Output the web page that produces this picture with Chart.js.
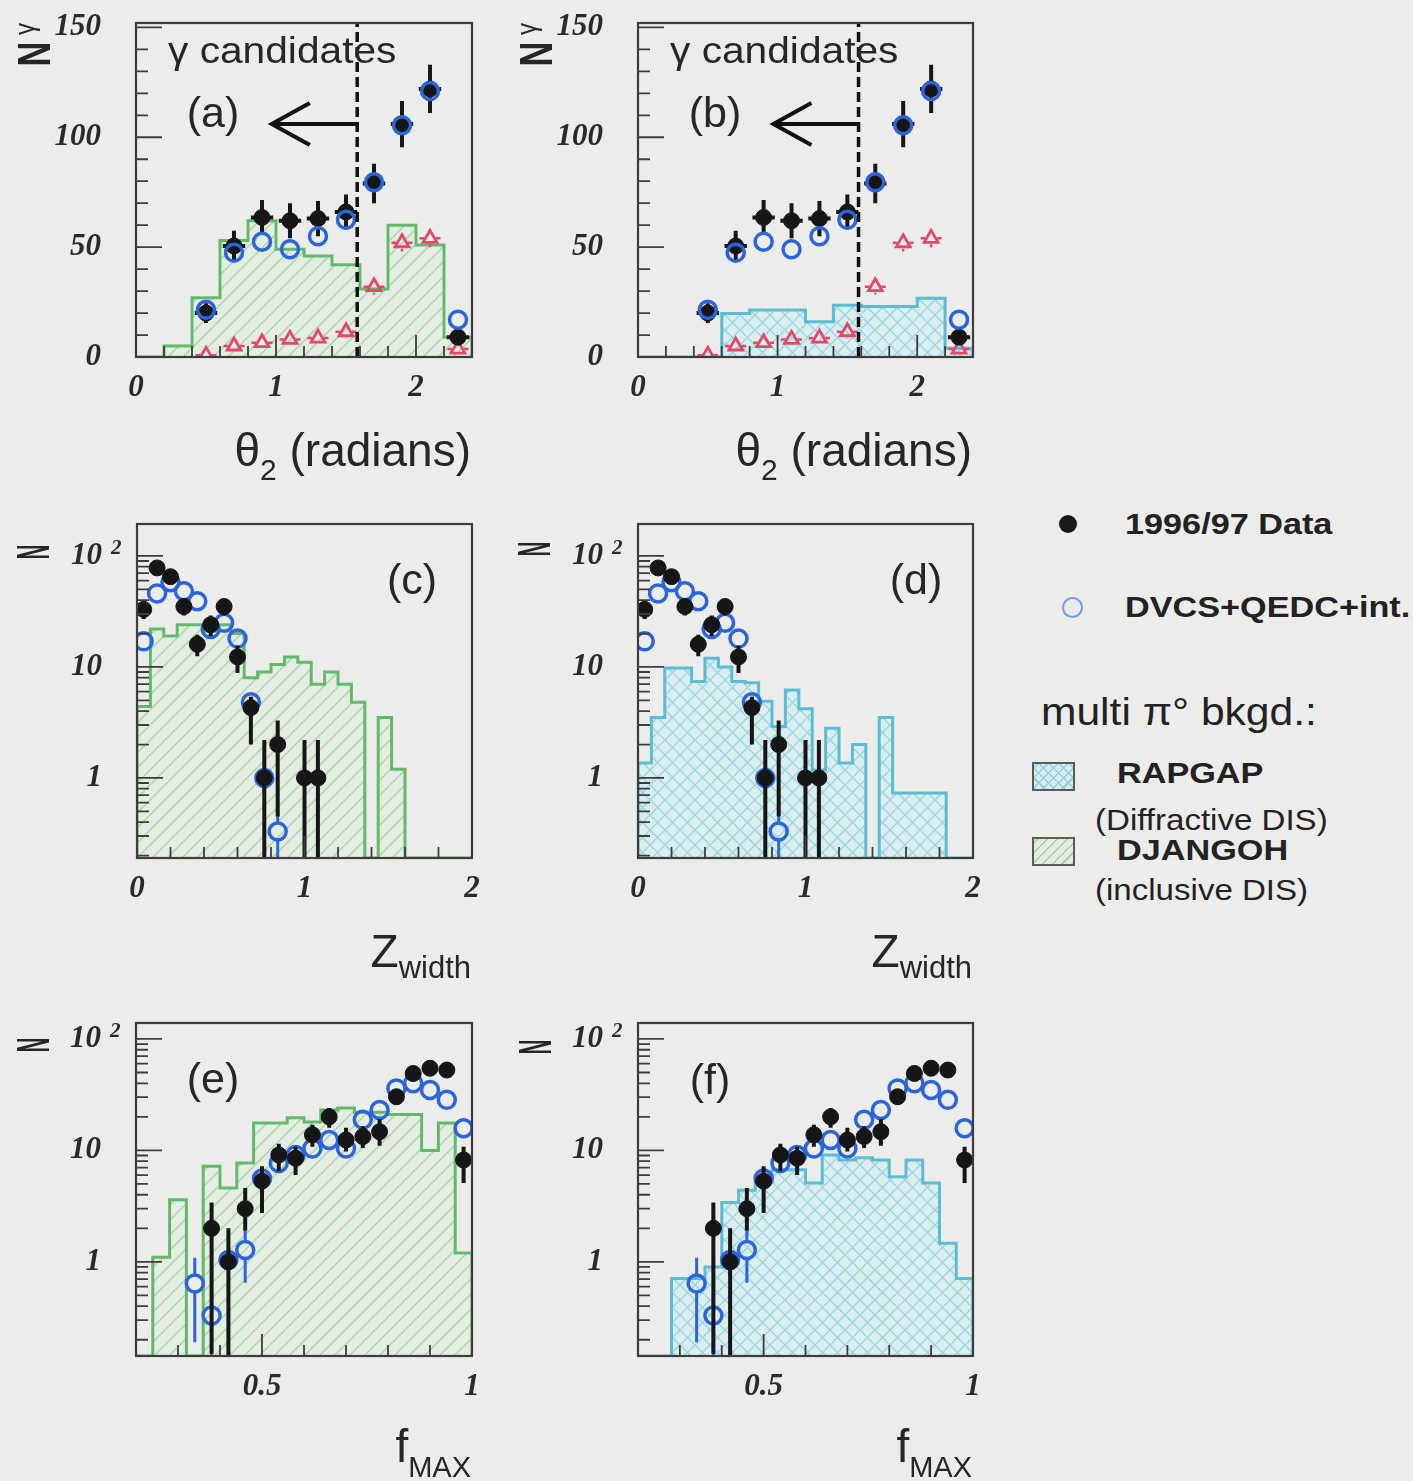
<!DOCTYPE html>
<html>
<head>
<meta charset="utf-8">
<title>Photon candidate distributions</title>
<script src="https://cdn.jsdelivr.net/npm/chart.js@4.4.1/dist/chart.umd.min.js"></script>
<style>
  html, body { margin: 0; padding: 0; background: #ececea; }
  body { position: relative; width: 1413px; height: 1481px; overflow: hidden;
         font-family: "Liberation Sans", Arial, sans-serif; color: #222; }
  canvas { position: absolute; }
  .txt { position: absolute; white-space: nowrap; line-height: 1; transform-origin: 0 50%; }
  .bold { font-weight: bold; font-size: 29px; transform: translateY(-50%) scaleX(1.18); }
  .note { font-size: 29px; transform: translateY(-50%) scaleX(1.14); }
  .head { font-size: 38px; transform: translateY(-50%) scaleX(1.12); }
  .mark { position: absolute; box-sizing: border-box; border-radius: 50%; }
  .swatch { position: absolute; box-sizing: border-box; width: 43px; height: 29px; border: 2px solid #5a5a5a; }
</style>
</head>
<body>
<canvas id="pa" width="500" height="500" style="left:0;top:0"></canvas>
<canvas id="pb" width="500" height="500" style="left:500px;top:0"></canvas>
<canvas id="pc" width="500" height="500" style="left:0;top:500px"></canvas>
<canvas id="pd" width="500" height="500" style="left:500px;top:500px"></canvas>
<canvas id="pe" width="500" height="481" style="left:0;top:1000px"></canvas>
<canvas id="pf" width="500" height="481" style="left:500px;top:1000px"></canvas>

<!-- legend -->
<div class="mark" style="left:1059px;top:515px;width:18px;height:18px;background:#1a1a1a"></div>
<div class="txt bold" style="left:1125px;top:524px">1996/97 Data</div>
<div class="mark" style="left:1062px;top:597px;width:21px;height:21px;border:2.5px solid #6c9de6"></div>
<div class="txt bold" style="left:1125px;top:607px">DVCS+QEDC+int.</div>
<div class="txt head" style="left:1041px;top:712px">multi &pi;&deg; bkgd.:</div>
<div class="swatch" style="left:1032px;top:762px;background:
  repeating-linear-gradient(45deg, #95d2df 0 1.5px, transparent 1.5px 7px),
  repeating-linear-gradient(-45deg, #95d2df 0 1.5px, transparent 1.5px 7px), #d8ebee"></div>
<div class="txt bold" style="left:1117px;top:773px">RAPGAP</div>
<div class="txt note" style="left:1095px;top:820px">(Diffractive DIS)</div>
<div class="swatch" style="left:1032px;top:837px;background:
  repeating-linear-gradient(-45deg, #a3d3a6 0 1.5px, #e3ece1 1.5px 7px)"></div>
<div class="txt bold" style="left:1117px;top:850px">DJANGOH</div>
<div class="txt note" style="left:1095px;top:890px">(inclusive DIS)</div>

<script>
// ---- theta_2 of the second cluster, panels (a) and (b); 0.2 rad bins ----
const thetaEdges = [0, 0.2, 0.4, 0.6, 0.8, 1.0, 1.2, 1.4, 1.6, 1.8, 2.0, 2.2, 2.4];
const thetaDjangoh = [0, 5, 27, 53, 62, 49, 46, 42, 31, 60, 51, 9];
const thetaRapgap = [0, 0, 0, 19.8, 21.4, 21.4, 16, 23.6, 23, 23, 26.7, 4];
const thetaX = [0.5, 0.7, 0.9, 1.1, 1.3, 1.5, 1.7, 1.9, 2.1, 2.3];
const thetaData = [20, 50.5, 63.5, 62, 63, 66, 79, 106, 122, 9];
const thetaDataErr = [4.5, 7, 8, 8, 8, 8, 9, 10.5, 11, 3];
const thetaDvcs = [21.5, 47.5, 52.5, 49, 55, 62.5, 79.5, 105.5, 121, 17];
const thetaTri = [0.8, 5, 6.5, 8, 8.6, 11.5, 32, 52, 54, 3.6];
const thetaTriErr = [0.8, 2, 2.2, 2.5, 2.6, 3, 3.5, 4, 4, 1.5];
const thetaYTicks = [0, 50, 100, 150];
const thetaXTicks = [0, 1, 2];
const thetaCut = 1.58;
const arrowTip = 0.97;
const arrowLevel = 106;

// ---- Z_width, panels (c) and (d); 0.08 bins ----
const zwEdges = [0, 0.08, 0.16, 0.24, 0.32, 0.40, 0.48, 0.56, 0.64, 0.72, 0.80, 0.88, 0.96,
                 1.04, 1.12, 1.20, 1.28, 1.36, 1.44, 1.52, 1.60, 1.68, 1.76, 1.84, 1.92, 2.00];
const zwDjangoh = [4.4, 22, 19, 24, 24, 21, 24, 20, 8, 9, 10.5, 12.3, 11, 7, 9, 7, 4.8, 0, 3.5, 1.2, 0, 0, 0, 0, 0];
const zwRapgap = [1.36, 3.5, 9.8, 9.8, 7.4, 12, 10, 7.4, 7.2, 4.9, 2.9, 6.2, 4.2, 1.18, 2.8, 1.36, 2.0, 0, 3.5, 0.73, 0.73, 0.73, 0.73, 0, 0];
const zwDataX = [0.04, 0.12, 0.20, 0.28, 0.36, 0.44, 0.52, 0.60, 0.68, 0.76, 0.84, 1.00, 1.08];
const zwData = [33, 78, 65, 35, 16, 24, 35, 12.3, 4.3, 1, 2, 1, 1];
const zwDataLo = [27, 69, 57, 29, 12.5, 19, 29, 8.8, 2.0, 0, 0.45, 0, 0];
const zwDataHi = [39, 87, 73, 41, 19.5, 29, 41, 15.5, 5.4, 2.2, 3.3, 2.2, 2.2];
const zwDvcsX = [0.04, 0.12, 0.20, 0.28, 0.36, 0.44, 0.52, 0.60, 0.68, 0.76, 0.84];
const zwDvcs = [17, 46, 58, 48, 39, 22, 25, 18, 4.8, 1, 0.33];
const zwDvcsLo = [15.5, 43, 55, 45, 36.5, 20.5, 23.5, 16.5, 4.2, 0.75, 0.19];
const zwDvcsHi = [18.5, 49, 61, 51, 41.5, 23.5, 26.5, 19.5, 5.4, 1.25, 0.5];
const zwXTicks = [0, 1, 2];

// ---- f_MAX, panels (e) and (f); 0.04 bins ----
const fmEdges = [0.20, 0.24, 0.28, 0.32, 0.36, 0.40, 0.44, 0.48, 0.52, 0.56, 0.60,
                 0.64, 0.68, 0.72, 0.76, 0.80, 0.84, 0.88, 0.92, 0.96, 1.00];
const fmDjangoh = [0, 1.1, 3.6, 0, 7.2, 4.6, 7.7, 17.6, 17.6, 19.6, 18, 23, 24, 22, 22, 21, 21, 10, 17.6, 1.2];
const fmRapgap = [0, 0, 0.71, 0.71, 0.9, 3.4, 4.4, 5.2, 6.7, 6.7, 5.1, 9.1, 8.2, 8.6, 8.2, 5.8, 8.2, 5.1, 1.47, 0.71];
const fmDataX = [0.38, 0.42, 0.46, 0.50, 0.54, 0.58, 0.62, 0.66, 0.70, 0.74, 0.78, 0.82, 0.86, 0.90, 0.94, 0.98];
const fmData = [2.0, 1.0, 3.0, 5.3, 9.1, 8.5, 13.8, 20, 12.4, 13.3, 14.7, 30.3, 49, 54.6, 52.6, 8.2];
const fmDataLo = [0.15, 0, 1.9, 2.75, 6.5, 6.0, 10.8, 16, 9.8, 10.5, 11, 26, 43, 48, 46, 5.1];
const fmDataHi = [3.4, 2.0, 4.6, 7.2, 11.5, 10.8, 17, 24, 16, 16.5, 19, 35, 56, 62, 60, 10.8];
const fmDvcsX = [0.34, 0.38, 0.42, 0.46, 0.50, 0.54, 0.58, 0.62, 0.66, 0.70, 0.74, 0.78, 0.82, 0.86, 0.90, 0.94, 0.98];
const fmDvcs = [0.64, 0.33, 1.04, 1.28, 5.6, 7.7, 9.1, 10.4, 12.4, 10.4, 18.8, 23, 36, 40, 34.8, 28.4, 15.8];
const fmDvcsLo = [0.19, 0, 0.75, 0.65, 5.0, 7.0, 8.4, 9.6, 11.5, 9.6, 17.6, 21.7, 34.5, 38.4, 33.4, 27, 14.8];
const fmDvcsHi = [1.09, 0.53, 1.35, 1.9, 6.2, 8.4, 9.8, 11.2, 13.3, 11.2, 20, 24.3, 37.5, 41.6, 36.2, 29.8, 16.8];
const fmXTicks = [0.5, 1];

const logYTicks = [1, 10, 100];

const INK = '#262626';
const DATA_COL = '#161616';
const DVCS_COL = '#2c64dc';
const TRI_COL = '#e4476c';
const GREEN = { line: '#62b96c', hatch: '#a9d6ab', bg: '#e5ede3' };
const CYAN = { line: '#5bbdd3', hatch: '#9dd5e1', bg: '#dcedf0' };

function hatchPattern(c, cross) {
  const n = 15;
  const cv = document.createElement('canvas');
  cv.width = cv.height = n;
  const g = cv.getContext('2d');
  g.fillStyle = c.bg;
  g.fillRect(0, 0, n, n);
  g.strokeStyle = c.hatch;
  g.lineWidth = 1.5;
  g.beginPath();
  for (let k = -1; k <= 1; k++) {
    g.moveTo(k * n - 2, n + 2); g.lineTo(k * n + n + 2, -2);
    if (cross) { g.moveTo(k * n - 2, -2); g.lineTo(k * n + n + 2, n + 2); }
  }
  g.stroke();
  return g.createPattern(cv, 'repeat');
}

// step outline of a histogram, closed down to the axis floor at both ends
function histPoints(edges, vals, floor) {
  const pts = [{ x: edges[0], y: floor }];
  vals.forEach((v, i) => pts.push({ x: edges[i], y: Math.max(v, floor) }));
  const last = edges[edges.length - 1];
  pts.push({ x: last, y: Math.max(vals[vals.length - 1], floor) });
  pts.push({ x: last, y: floor });
  return pts;
}

const xy = (xs, ys) => xs.map((x, i) => ({ x, y: ys[i] }));

// error bars, left open inside the marker
const errorBars = {
  id: 'errorBars',
  beforeDatasetDraw(chart, args) {
    const ds = chart.data.datasets[args.index];
    if (!ds.errLo && !ds.xHalf) return;
    const { ctx, chartArea: a, scales: { x, y } } = chart;
    const gap = ds.errGap || 0;
    const seg = (x0, y0, x1, y1) => { ctx.moveTo(x0, y0); ctx.lineTo(x1, y1); };
    ctx.save();
    ctx.beginPath();
    ctx.rect(a.left, a.top, a.right - a.left, a.bottom - a.top);
    ctx.clip();
    ctx.strokeStyle = ds.errColor;
    ctx.lineWidth = ds.errWidth;
    ctx.beginPath();
    ds.data.forEach((p, i) => {
      const px = x.getPixelForValue(p.x);
      const py = y.getPixelForValue(p.y);
      if (ds.errLo) {
        const lo = y.getPixelForValue(Math.max(ds.errLo[i], y.min));
        const hi = y.getPixelForValue(ds.errHi[i]);
        if (lo > py + gap) seg(px, lo, px, py + gap);
        if (hi < py - gap) seg(px, py - gap, px, hi);
      }
      if (ds.xHalf) {
        seg(x.getPixelForValue(p.x - ds.xHalf), py, px - gap, py);
        seg(px + gap, py, x.getPixelForValue(p.x + ds.xHalf), py);
      }
    });
    ctx.stroke();
    ctx.restore();
  }
};

const cutArrow = {
  id: 'cutArrow',
  afterDatasetsDraw(chart, args, o) {
    if (!o.cut) return;
    const { ctx, chartArea: a, scales: { x, y } } = chart;
    const cx = x.getPixelForValue(o.cut);
    ctx.save();
    ctx.strokeStyle = '#111';
    ctx.lineWidth = 3.5;
    ctx.setLineDash([10, 5]);
    ctx.beginPath();
    ctx.moveTo(cx, a.bottom);
    ctx.lineTo(cx, a.top);
    ctx.stroke();
    ctx.setLineDash([]);
    const ay = y.getPixelForValue(o.level);
    const tip = x.getPixelForValue(o.tip);
    ctx.lineWidth = 4;
    ctx.beginPath();
    ctx.moveTo(cx, ay);
    ctx.lineTo(tip, ay);
    ctx.moveTo(tip + 38, ay - 21);
    ctx.lineTo(tip, ay);
    ctx.lineTo(tip + 38, ay + 21);
    ctx.stroke();
    ctx.restore();
  }
};

// ROOT-like frame with inward tick marks
const rootFrame = {
  id: 'rootFrame',
  afterDatasetsDraw(chart, args, o) {
    const { ctx, chartArea: a, scales: { x, y } } = chart;
    ctx.save();
    ctx.strokeStyle = '#3d3d3d';
    ctx.lineWidth = 1.8;
    ctx.beginPath();
    const ty = (v, len) => { const p = y.getPixelForValue(v); ctx.moveTo(a.left, p); ctx.lineTo(a.left + len, p); };
    const tx = (v, len) => { const p = x.getPixelForValue(v); ctx.moveTo(p, a.bottom); ctx.lineTo(p, a.bottom - len); };
    const near = (list, v) => list.some(m => Math.abs(m - v) < 1e-6);
    if (o.logY) {
      for (let d = 0.1; d <= y.max; d *= 10) {
        for (let k = 2; k <= 9; k++) {
          const v = k * d;
          if (v > y.min && v < y.max) ty(v, 12);
        }
      }
    } else {
      const n = Math.round((y.max - y.min) / o.yStep);
      for (let i = 0; i <= n; i++) {
        const v = y.min + i * o.yStep;
        if (!near(o.yMajor, v)) ty(v, 12);
      }
    }
    o.yMajor.forEach(v => ty(v, 26));
    const nx = Math.round((x.max - x.min) / o.xStep);
    for (let i = 1; i < nx; i++) {
      const v = x.min + i * o.xStep;
      if (!near(o.xMajor, v)) tx(v, 11);
    }
    o.xMajor.forEach(v => tx(v, 22));
    ctx.stroke();
    ctx.lineWidth = 2.2;
    ctx.strokeRect(a.left, a.top, a.right - a.left, a.bottom - a.top);
    ctx.restore();
  }
};

function drawParts(ctx, parts, right, base) {
  let w = 0;
  parts.forEach(p => { ctx.font = p.size + 'px "Liberation Sans"'; p.w = ctx.measureText(p.t).width; w += p.w; });
  let xp = right - w;
  ctx.textAlign = 'left';
  ctx.textBaseline = 'alphabetic';
  parts.forEach(p => {
    ctx.font = p.size + 'px "Liberation Sans"';
    ctx.fillText(p.t, xp, base + (p.dy || 0));
    xp += p.w;
  });
}

function rotGlyph(ctx, t, font, cx, cy, squash) {
  ctx.save();
  ctx.translate(cx, cy);
  ctx.rotate(-Math.PI / 2);
  ctx.scale(squash, 1);
  ctx.font = font;
  ctx.textAlign = 'center';
  ctx.textBaseline = 'middle';
  ctx.fillText(t, 0, 0);
  ctx.restore();
}

const panelText = {
  id: 'panelText',
  afterDraw(chart, args, o) {
    const { ctx, chartArea: a, scales: { y } } = chart;
    ctx.save();
    ctx.fillStyle = INK;
    ctx.font = '43px "Liberation Sans"';
    ctx.textAlign = 'center';
    ctx.textBaseline = 'middle';
    ctx.fillText(o.tag, a.left + o.tagAt[0], a.top + o.tagAt[1]);
    if (o.note) {
      ctx.save();
      ctx.translate(a.left + 32, a.top + 40);
      ctx.scale(1.13, 1);
      ctx.font = '36px "Liberation Sans"';
      ctx.textAlign = 'left';
      ctx.textBaseline = 'alphabetic';
      ctx.fillText(o.note, 0, 0);
      ctx.restore();
    }
    // axis titles
    rotGlyph(ctx, 'N', 'bold 46px "Liberation Sans"', a.left + o.nAt[0], a.top + o.nAt[1], o.nSquash);
    if (o.nSup) rotGlyph(ctx, o.nSup, '27px "Liberation Sans"', a.left + o.nAt[0] - 10, a.top + o.nAt[1] - 25, 0.9);
    drawParts(ctx, o.xTitle, a.right - 1, a.bottom + o.xTitleDrop);
    // exponent of the 10^2 label
    if (o.logY) {
      ctx.font = 'italic bold 21px "Liberation Serif"';
      ctx.textAlign = 'left';
      ctx.textBaseline = 'middle';
      ctx.fillStyle = '#2a2a2a';
      ctx.fillText('2', a.left - 26, y.getPixelForValue(100) - 7);
    }
    ctx.restore();
  }
};

const tickFont = { family: '"Liberation Serif", serif', size: 31, style: 'italic', weight: 'bold' };

function panel(id, c) {
  const cv = document.getElementById(id);
  const W = cv.width, H = cv.height, f = c.frame;
  const floor = c.yRange[0];
  const datasets = [{
    type: 'line',
    data: histPoints(c.edges, c.hist, floor),
    stepped: true,
    showLine: true,
    borderColor: c.histCol.line,
    borderWidth: 3,
    backgroundColor: hatchPattern(c.histCol, c.cross),
    fill: 'start',
    pointRadius: 0,
    order: 5
  }];
  if (c.tri) {
    datasets.push({
      data: xy(c.triX, c.tri),
      pointStyle: 'triangle', pointRadius: 8, pointBorderWidth: 2.8,
      pointBorderColor: TRI_COL, pointBackgroundColor: 'rgba(0,0,0,0)',
      errLo: c.tri.map((v, i) => v - c.triErr[i]), errHi: c.tri.map((v, i) => v + c.triErr[i]),
      errColor: TRI_COL, errWidth: 2.5, xHalf: 0.075, errGap: 6,
      order: 4
    });
  }
  datasets.push({
    data: xy(c.dataX, c.data),
    pointStyle: 'circle', pointRadius: 8, pointBorderWidth: 1,
    pointBorderColor: DATA_COL, pointBackgroundColor: DATA_COL,
    errLo: c.dataLo, errHi: c.dataHi, errColor: DATA_COL, errWidth: 4, xHalf: c.dataXHalf,
    order: c.tri ? 3 : 1
  });
  datasets.push({
    data: xy(c.dvcsX, c.dvcs),
    pointStyle: 'circle', pointRadius: 8.5, pointBorderWidth: 3.5,
    pointBorderColor: DVCS_COL, pointBackgroundColor: 'rgba(0,0,0,0)',
    errLo: c.dvcsLo, errHi: c.dvcsHi, errColor: DVCS_COL, errWidth: 3, errGap: 9,
    order: c.tri ? 2 : 3
  });

  new Chart(cv, {
    type: 'scatter',
    data: { datasets },
    options: {
      responsive: false,
      animation: false,
      events: [],
      layout: { padding: { left: 0, top: f.t, right: W - f.r, bottom: 0 } },
      plugins: {
        legend: { display: false },
        tooltip: { enabled: false },
        rootFrame: { logY: c.logY, yMajor: c.yTicks, yStep: c.yStep, xMajor: c.xMajor, xStep: c.xStep },
        cutArrow: c.cut ? { cut: thetaCut, tip: arrowTip, level: arrowLevel } : {},
        panelText: c.text
      },
      scales: {
        x: {
          type: 'linear', min: c.xRange[0], max: c.xRange[1],
          grid: { display: false, drawTicks: false }, border: { display: false },
          ticks: { font: tickFont, color: '#2a2a2a', padding: 12, maxRotation: 0, autoSkip: false,
                   callback: v => String(v) },
          afterBuildTicks: s => { s.ticks = c.xLabels.map(v => ({ value: v })); },
          afterFit: s => { s.height = H - f.b; s.paddingLeft = 0; s.paddingRight = 0; }
        },
        y: {
          type: c.logY ? 'logarithmic' : 'linear', min: c.yRange[0], max: c.yRange[1],
          grid: { display: false, drawTicks: false }, border: { display: false },
          ticks: { font: tickFont, color: '#2a2a2a', padding: 35, autoSkip: false,
                   callback: v => (v === 100 && c.logY) ? '10' : String(v) },
          afterBuildTicks: s => { s.ticks = c.yTicks.map(v => ({ value: v })); },
          afterFit: s => { s.width = f.l; s.paddingTop = 0; s.paddingBottom = 0; }
        }
      }
    },
    plugins: [errorBars, cutArrow, rootFrame, panelText]
  });
}

const thetaTitle = [{ t: '\u03b8', size: 46 }, { t: '2', size: 30, dy: 14 }, { t: ' (radians)', size: 46 }];
const zwTitle = [{ t: 'Z', size: 46 }, { t: 'width', size: 31, dy: 11 }];
const fmTitle = [{ t: 'f', size: 46 }, { t: 'MAX', size: 29, dy: 15 }];

const thetaCommon = {
  edges: thetaEdges, xRange: [0, 2.4], yRange: [0, 152], logY: false,
  yTicks: thetaYTicks, yStep: 10, xLabels: thetaXTicks, xMajor: [1, 2], xStep: 0.2,
  triX: thetaX, tri: thetaTri, triErr: thetaTriErr,
  dataX: thetaX, data: thetaData,
  dataLo: thetaData.map((v, i) => v - thetaDataErr[i]), dataHi: thetaData.map((v, i) => v + thetaDataErr[i]),
  dataXHalf: 0.08,
  dvcsX: thetaX, dvcs: thetaDvcs, cut: true
};
const zwCommon = {
  edges: zwEdges, xRange: [0, 2], yRange: [0.19, 194], logY: true,
  yTicks: logYTicks, xLabels: zwXTicks, xMajor: [1], xStep: 0.2,
  dataX: zwDataX, data: zwData, dataLo: zwDataLo, dataHi: zwDataHi,
  dvcsX: zwDvcsX, dvcs: zwDvcs, dvcsLo: zwDvcsLo, dvcsHi: zwDvcsHi
};
const fmCommon = {
  edges: fmEdges, xRange: [0.2, 1.0], yRange: [0.143, 139], logY: true,
  yTicks: logYTicks, xLabels: fmXTicks, xMajor: [0.5], xStep: 0.1,
  dataX: fmDataX, data: fmData, dataLo: fmDataLo, dataHi: fmDataHi,
  dvcsX: fmDvcsX, dvcs: fmDvcs, dvcsLo: fmDvcsLo, dvcsHi: fmDvcsHi
};

panel('pa', Object.assign({}, thetaCommon, {
  frame: { l: 136, t: 23, r: 472, b: 357 }, hist: thetaDjangoh, histCol: GREEN, cross: false,
  text: { tag: '(a)', tagAt: [77, 92], note: '\u03b3 candidates', nAt: [-99, 31], nSquash: 0.75, nSup: '\u03b3',
          xTitle: thetaTitle, xTitleDrop: 109, logY: false }
}));
panel('pb', Object.assign({}, thetaCommon, {
  frame: { l: 138, t: 23, r: 473, b: 357 }, hist: thetaRapgap, histCol: CYAN, cross: true,
  text: { tag: '(b)', tagAt: [77, 92], note: '\u03b3 candidates', nAt: [-99, 31], nSquash: 0.75, nSup: '\u03b3',
          xTitle: thetaTitle, xTitleDrop: 109, logY: false }
}));
panel('pc', Object.assign({}, zwCommon, {
  frame: { l: 137, t: 24, r: 472, b: 358 }, hist: zwDjangoh, histCol: GREEN, cross: false,
  text: { tag: '(c)', tagAt: [275, 58], nAt: [-101, 28], nSquash: 0.45,
          xTitle: zwTitle, xTitleDrop: 109, logY: true }
}));
panel('pd', Object.assign({}, zwCommon, {
  frame: { l: 138, t: 24, r: 473, b: 358 }, hist: zwRapgap, histCol: CYAN, cross: true,
  text: { tag: '(d)', tagAt: [278, 58], nAt: [-101, 25], nSquash: 0.45,
          xTitle: zwTitle, xTitleDrop: 109, logY: true }
}));
panel('pe', Object.assign({}, fmCommon, {
  frame: { l: 136, t: 23, r: 472, b: 356 }, hist: fmDjangoh, histCol: GREEN, cross: false,
  text: { tag: '(e)', tagAt: [77, 58], nAt: [-100, 22], nSquash: 0.45,
          xTitle: fmTitle, xTitleDrop: 106, logY: true }
}));
panel('pf', Object.assign({}, fmCommon, {
  frame: { l: 138, t: 23, r: 473, b: 356 }, hist: fmRapgap, histCol: CYAN, cross: true,
  text: { tag: '(f)', tagAt: [72, 59], nAt: [-100, 24], nSquash: 0.45,
          xTitle: fmTitle, xTitleDrop: 106, logY: true }
}));
</script>
</body>
</html>
